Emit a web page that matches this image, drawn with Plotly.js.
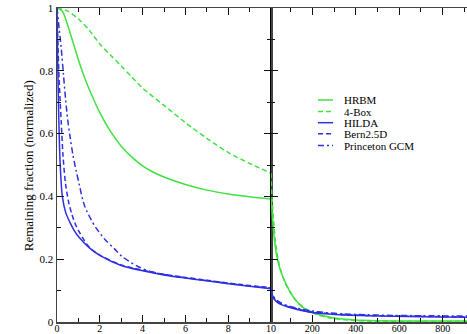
<!DOCTYPE html>
<html>
<head>
<meta charset="utf-8">
<script src="https://cdn.plot.ly/plotly-3.0.1.min.js"></script>
<style>html,body{margin:0;padding:0;background:#fff}</style>
</head>
<body>
<div id="chart" style="width:467px;height:334px"></div>
<script>
// Remaining fraction of a CO2 pulse: first decade (left) and long term (right)

// ---- first 10 years ----
const tGreen   = [0, 0.25, 0.5, 0.75, 1, 1.25, 1.5, 1.75, 2, 2.5, 3, 3.5, 4, 4.5, 5, 6, 7, 8, 9, 10];
const hrbmA    = [1.0, 0.99, 0.945, 0.89, 0.835, 0.785, 0.742, 0.703, 0.667, 0.607, 0.56, 0.525, 0.497, 0.477, 0.462, 0.438, 0.42, 0.408, 0.399, 0.392];
const tBox     = [0, 0.5, 1, 1.5, 2, 2.5, 3, 3.5, 4, 5, 6, 7, 8, 9, 10];
const fourBoxA = [1.0, 0.99, 0.965, 0.93, 0.885, 0.85, 0.815, 0.78, 0.745, 0.69, 0.635, 0.585, 0.54, 0.505, 0.474];

const tHilda   = [0, 0.03, 0.08, 0.15, 0.25, 0.4, 0.6, 0.8, 1.0, 1.5, 2, 3, 4, 5, 6, 7, 8, 9, 10];
const hildaA   = [1.0, 0.85, 0.66, 0.50, 0.40, 0.35, 0.318, 0.292, 0.272, 0.237, 0.212, 0.18, 0.163, 0.15, 0.14, 0.131, 0.122, 0.114, 0.106];
const tBern    = [0, 0.05, 0.1, 0.15, 0.2, 0.28, 0.4, 0.55, 0.7, 0.9, 1.1, 1.46, 2, 3, 4, 5, 6, 7, 8, 9, 10];
const bernA    = [1.0, 0.87, 0.77, 0.70, 0.635, 0.53, 0.44, 0.38, 0.342, 0.305, 0.28, 0.242, 0.213, 0.182, 0.165, 0.152, 0.142, 0.133, 0.124, 0.116, 0.109];
const tPrin    = [0, 0.1, 0.2, 0.3, 0.4, 0.5, 0.6, 0.75, 0.9, 1.05, 1.2, 1.3, 1.4, 1.6, 1.8, 2.25, 2.7, 3.05, 3.8, 4.4, 5, 6, 7, 8, 9, 10];
const prinA    = [1.0, 0.935, 0.87, 0.79, 0.71, 0.645, 0.595, 0.53, 0.48, 0.435, 0.39, 0.368, 0.352, 0.325, 0.302, 0.262, 0.232, 0.208, 0.176, 0.16, 0.151, 0.141, 0.132, 0.123, 0.115, 0.108];

// ---- years 10 to 900 ----
const TGreen   = [10, 15, 20, 27, 35, 50, 72, 95, 120, 150, 200, 250, 310, 400, 500, 650, 912];
const hrbmB    = [0.392, 0.35, 0.305, 0.255, 0.215, 0.172, 0.132, 0.10, 0.073, 0.05, 0.031, 0.02, 0.012, 0.006, 0.004, 0.003, 0.003];
const TBox     = [10, 13, 17, 22, 30, 40, 55, 75, 100, 130, 170, 220, 280, 350, 450, 600, 912];
const fourBoxB = [0.474, 0.42, 0.37, 0.32, 0.26, 0.21, 0.165, 0.125, 0.092, 0.064, 0.042, 0.024, 0.013, 0.007, 0.003, 0.002, 0.002];
const TBlue    = [10, 13, 18, 25, 35, 50, 70, 95, 130, 190, 260, 340, 450, 570, 700, 912];
const hildaB   = [0.106, 0.09, 0.08, 0.072, 0.065, 0.058, 0.052, 0.046, 0.04, 0.031, 0.026, 0.022, 0.02, 0.018, 0.017, 0.015];
const bernB    = [0.109, 0.093, 0.083, 0.075, 0.067, 0.06, 0.054, 0.048, 0.042, 0.033, 0.028, 0.024, 0.021, 0.019, 0.018, 0.016];
const prinB    = [0.108, 0.095, 0.086, 0.078, 0.07, 0.063, 0.056, 0.05, 0.044, 0.036, 0.03, 0.026, 0.023, 0.021, 0.02, 0.019];

const models = ['HRBM', '4-Box', 'HILDA', 'Bern2.5D', 'Princeton GCM'];

const GREEN = '#3fe23f';
const BLUE = '#2f2fe4';
const styles = [
  {color: GREEN, dash: 'solid'},
  {color: GREEN, dash: '5px,3px'},
  {color: BLUE, dash: 'solid'},
  {color: BLUE, dash: '5px,3px'},
  {color: BLUE, dash: '6px,3px,2px,3px'}
];

const left  = [[tGreen, hrbmA], [tBox, fourBoxA], [tHilda, hildaA], [tBern, bernA], [tPrin, prinA]];
const right = [[TGreen, hrbmB], [TBox, fourBoxB], [TBlue, hildaB], [TBlue, bernB], [TBlue, prinB]];

const traces = [];
models.forEach((name, i) => {
  const line = {color: styles[i].color, dash: styles[i].dash, width: 1.5, shape: 'spline', smoothing: 0.8};
  traces.push({x: left[i][0], y: left[i][1], name, type: 'scatter', mode: 'lines',
               line, xaxis: 'x', yaxis: 'y', showlegend: false, hoverinfo: 'skip'});
  traces.push({x: right[i][0], y: right[i][1], name, type: 'scatter', mode: 'lines',
               line, xaxis: 'x2', yaxis: 'y2', showlegend: false, hoverinfo: 'skip'});
});

const FONT = 'Liberation Serif, Times New Roman, serif';
const split = 214 / 410;

const common = {
  ticks: 'inside', ticklen: 7, tickwidth: 1, tickcolor: '#111',
  showgrid: false, zeroline: false, showline: true,
  tickfont: {family: FONT, size: 11, color: '#000'}
};
const xTickFont = {family: FONT, size: 10, color: '#000'};
const minorTicks = (d) => ({dtick: d, ticks: 'inside', ticklen: 4, tickwidth: 1, tickcolor: '#111', showgrid: false});

// legend drawn as short line samples with labels
const legX0 = (318 - 57) / 410, legX1 = (333 - 57) / 410, legTx = (342 - 57) / 410;
const legY = [100, 111.5, 122.7, 133.8, 145.5].map(p => (322 - p) / 314);
const shapes = models.map((m, i) => ({
  type: 'line', xref: 'paper', yref: 'paper', x0: legX0, x1: legX1, y0: legY[i], y1: legY[i],
  line: {color: styles[i].color, width: 1.5, dash: styles[i].dash}
}));
const annotations = models.map((m, i) => ({
  text: m, xref: 'paper', yref: 'paper', x: legTx, y: legY[i], xanchor: 'left', yanchor: 'middle',
  showarrow: false, font: {family: FONT, size: 11, color: '#000'}
}));
annotations.push({
  text: 'Remaining fraction (normalized)', xref: 'paper', yref: 'paper',
  x: (28 - 57) / 410, y: 0.496, textangle: -90, xanchor: 'center', yanchor: 'middle',
  showarrow: false, font: {family: FONT, size: 13, color: '#000'}
});

const layout = {
  width: 467, height: 334,
  margin: {l: 57, r: 0, t: 8, b: 12, pad: 0},
  paper_bgcolor: '#fff', plot_bgcolor: '#fff',
  showlegend: false,
  xaxis: Object.assign({}, common, {
    domain: [0, split], range: [0, 10], tick0: 0, dtick: 2, ticklabelstandoff: -4, tickfont: xTickFont,
    linecolor: '#444', linewidth: 1.5, mirror: 'ticks', minor: minorTicks(1)
  }),
  yaxis: Object.assign({}, common, {
    domain: [0, 1], range: [0, 1], tick0: 0, dtick: 0.2,
    linecolor: '#444', linewidth: 1.5, mirror: 'ticks', minor: minorTicks(0.1)
  }),
  xaxis2: Object.assign({}, common, {
    domain: [split, 1], range: [10, 912], anchor: 'y2', tick0: 0, dtick: 200, ticklabelstandoff: -4, tickfont: xTickFont,
    linecolor: '#444', linewidth: 1.5, mirror: 'ticks', minor: minorTicks(100)
  }),
  yaxis2: Object.assign({}, common, {
    domain: [0, 1], range: [0, 1], anchor: 'x2', tick0: 0, dtick: 0.2,
    showticklabels: false, linecolor: '#000', linewidth: 1.5, mirror: false,
    minor: minorTicks(0.1)
  }),
  shapes, annotations
};

Plotly.newPlot('chart', traces, layout, {displayModeBar: false, staticPlot: true});
</script>
</body>
</html>
